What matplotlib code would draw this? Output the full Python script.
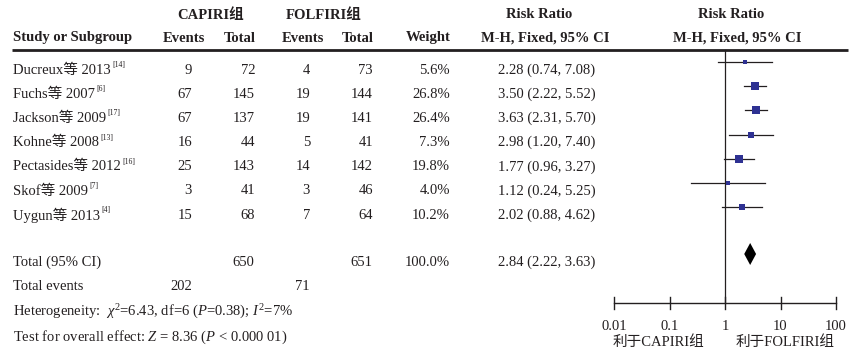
import matplotlib
matplotlib.use("Agg")
import matplotlib.pyplot as plt
import numpy as np

plt.rcParams['font.family'] = ['Liberation Serif', 'Noto Sans CJK SC']
plt.rcParams['mathtext.fontset'] = 'custom'
plt.rcParams['mathtext.rm'] = 'Liberation Serif'
plt.rcParams['mathtext.it'] = 'Liberation Serif:italic'
plt.rcParams['mathtext.bf'] = 'Liberation Serif:bold'

# ---------------- data ----------------
studies = ["Ducreux等 2013", "Fuchs等 2007", "Jackson等 2009", "Kohne等 2008",
           "Pectasides等 2012", "Skof等 2009", "Uygun等 2013"]
refs = ["[14]", "[6]", "[17]", "[13]", "[16]", "[7]", "[4]"]
ev_cap = [9, 67, 67, 16, 25, 3, 15]
tot_cap = [72, 145, 137, 44, 143, 41, 68]
ev_fol = [4, 19, 19, 5, 14, 3, 7]
tot_fol = [73, 144, 141, 41, 142, 46, 64]
weights = [5.6, 26.8, 26.4, 7.3, 19.8, 4.0, 10.2]
rr = [2.28, 3.50, 3.63, 2.98, 1.77, 1.12, 2.02]
lo = [0.74, 2.22, 2.31, 1.20, 0.96, 0.24, 0.88]
hi = [7.08, 5.52, 5.70, 7.40, 3.27, 5.25, 4.62]
total_cap, total_fol = 650, 651
total_weight = 100.0
total_ev_cap, total_ev_fol = 202, 71
total_rr, total_lo, total_hi = 2.84, 2.22, 3.63
ticks = [0.01, 0.1, 1, 10, 100]
tick_labels = ["0.01", "0.1", "1", "10", "100"]

W, H = 860, 361
fig = plt.figure(figsize=(W / 100, H / 100), dpi=100)
fig.patch.set_facecolor('white')

# text axes in pixel coordinates
ax = fig.add_axes([0, 0, 1, 1])
ax.set_xlim(0, W)
ax.set_ylim(H, 0)
ax.axis('off')

TC = '#231f20'
FS = 10.5
BOLD = dict(fontsize=FS, fontweight='bold', color=TC, va='center')
REG = dict(fontsize=FS, color=TC, va='center')

# header
ax.text(211, 15, "CAPIRI组", ha='center', **BOLD)
ax.text(324, 15, "FOLFIRI组", ha='center', **BOLD)
ax.text(539, 15, "Risk Ratio", ha='center', **BOLD)
ax.text(731, 15, "Risk Ratio", ha='center', **BOLD)
ax.text(13, 38, "Study or Subgroup", ha='left', **BOLD)
ax.text(184, 38, "Events", ha='center', **BOLD)
ax.text(240, 38, "Total", ha='center', **BOLD)
ax.text(303, 38, "Events", ha='center', **BOLD)
ax.text(358, 38, "Total", ha='center', **BOLD)
ax.text(428, 38, "Weight", ha='center', **BOLD)
ax.text(545, 38, "M-H, Fixed, 95% CI", ha='center', **BOLD)
ax.text(737, 38, "M-H, Fixed, 95% CI", ha='center', **BOLD)
ax.plot([12, 848], [50, 50], color=TC, lw=2, solid_capstyle='butt')

fig.canvas.draw()
renderer = fig.canvas.get_renderer()
inv = ax.transData.inverted()

row_y = [70 + 24.2 * i for i in range(len(studies))]
for i, y in enumerate(row_y):
    t = ax.text(13, y, studies[i], ha='left', **REG)
    bb = t.get_window_extent(renderer=renderer)
    x_end = inv.transform((bb.x1, bb.y1))[0]
    ax.text(x_end + 1.5, y - 5, refs[i], ha='left', va='center', fontsize=5.5, color=TC)
    ax.text(192, y, str(ev_cap[i]), ha='right', **REG)
    ax.text(255, y, str(tot_cap[i]), ha='right', **REG)
    ax.text(310, y, str(ev_fol[i]), ha='right', **REG)
    ax.text(373, y, str(tot_fol[i]), ha='right', **REG)
    ax.text(450, y, f"{weights[i]:.1f}%", ha='right', **REG)
    ax.text(547, y, f"{rr[i]:.2f} ({lo[i]:.2f}, {hi[i]:.2f})", ha='center', **REG)

ty = 262
ax.text(13, ty, "Total (95% CI)", ha='left', **REG)
ax.text(254, ty, str(total_cap), ha='right', **REG)
ax.text(372, ty, str(total_fol), ha='right', **REG)
ax.text(450, ty, f"{total_weight:.1f}%", ha='right', **REG)
ax.text(547, ty, f"{total_rr:.2f} ({total_lo:.2f}, {total_hi:.2f})", ha='center', **REG)
ax.text(13, 287, "Total events", ha='left', **REG)
ax.text(192, 287, str(total_ev_cap), ha='right', **REG)
ax.text(310, 287, str(total_ev_fol), ha='right', **REG)
ax.text(13, 312, r"Heterogeneity:  $\chi^2$=6.43, df=6 ($P$=0.38); $I^2$=7%", ha='left', **REG)
ax.text(13, 337, r"Test for overall effect: $Z$ = 8.36 ($P$ < 0.000 01)", ha='left', **REG)

# forest axes: log x mapped so that 0.01 -> 614 px, 100 -> 836 px
x0, x1 = 614, 836
fa = fig.add_axes([x0 / W, 0, (x1 - x0) / W, 1])
fa.set_xscale('log')
fa.set_xlim(0.01, 100)
fa.set_ylim(H, 0)
fa.axis('off')
fa.patch.set_alpha(0)

SQ = '#2e3192'
for i, y in enumerate(row_y):
    ym = y - 8
    fa.plot([lo[i], hi[i]], [ym, ym], color=TC, lw=0.9, clip_on=False)
    side = 2.0 + 1.2 * np.sqrt(weights[i])  # pixels
    fa.plot([rr[i]], [ym], marker='s', ms=side * 0.72, color=SQ, mec=SQ, mew=0,
            clip_on=False, zorder=3)

# diamond
yd = ty - 8
fa.fill([total_lo, total_rr, total_hi, total_rr], [yd, yd - 11, yd, yd + 11],
        color='black', lw=0, clip_on=False)

# null line
fa.plot([1, 1], [50, 303], color=TC, lw=0.9, clip_on=False)
# axis
fa.plot([ticks[0], ticks[-1]], [303, 303], color=TC, lw=1.0, clip_on=False)
for tk, lab in zip(ticks, tick_labels):
    fa.plot([tk, tk], [297, 309], color=TC, lw=1.0, clip_on=False)
    fa.text(tk, 326, lab, ha='center', va='center', fontsize=FS, color=TC, clip_on=False)

ax.text(658, 342, "利于CAPIRI组", ha='center', **REG)
ax.text(785, 342, "利于FOLFIRI组", ha='center', **REG)

fig.savefig("out.png", dpi=100, facecolor='white')
